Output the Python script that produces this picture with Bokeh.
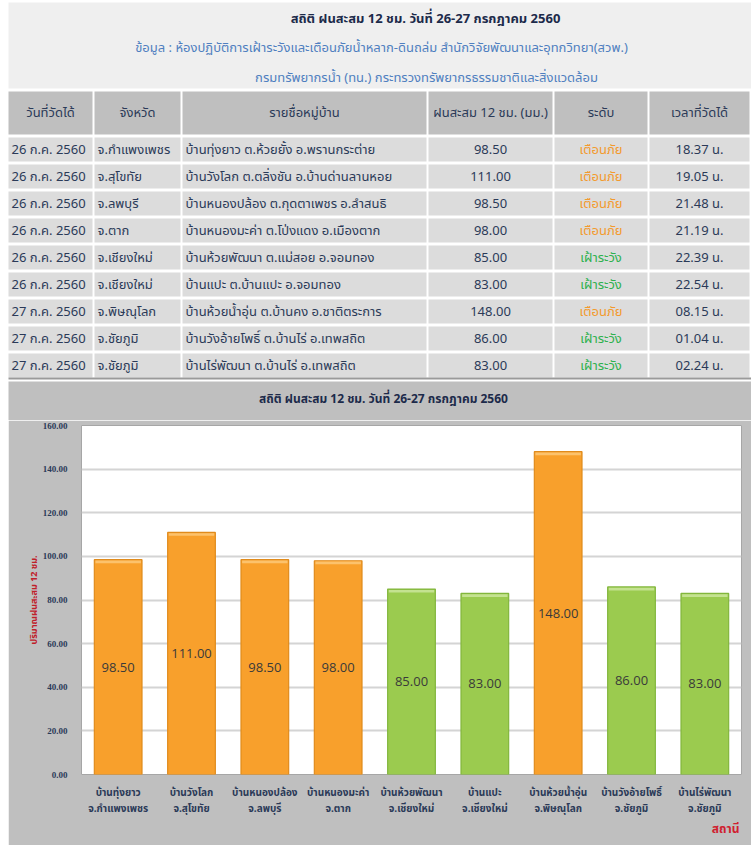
from bokeh.plotting import figure
from bokeh.models import Range1d, FactorRange, FixedTicker, NumeralTickFormatter, Title
from bokeh.core.properties import value
from bokeh.embed import file_html
from bokeh.resources import INLINE

# ---------------- data ----------------
title_text = "สถิติ ฝนสะสม 12 ชม. วันที่ 26-27 กรกฎาคม 2560"
source_line1 = "ข้อมูล : ห้องปฏิบัติการเฝ้าระวังและเตือนภัยน้ำหลาก-ดินถล่ม สำนักวิจัยพัฒนาและอุทกวิทยา(สวพ.)"
source_line2 = "กรมทรัพยากรน้ำ (ทน.) กระทรวงทรัพยากรธรรมชาติและสิ่งแวดล้อม"

table_headers = ["วันที่วัดได้", "จังหวัด", "รายชื่อหมู่บ้าน", "ฝนสะสม 12 ชม. (มม.)", "ระดับ", "เวลาที่วัดได้"]
dates = ["26 ก.ค. 2560"] * 6 + ["27 ก.ค. 2560"] * 3
provinces = ["จ.กำแพงเพชร", "จ.สุโขทัย", "จ.ลพบุรี", "จ.ตาก", "จ.เชียงใหม่",
             "จ.เชียงใหม่", "จ.พิษณุโลก", "จ.ชัยภูมิ", "จ.ชัยภูมิ"]
villages = ["บ้านทุ่งยาว", "บ้านวังโลก", "บ้านหนองปล้อง", "บ้านหนองมะค่า", "บ้านห้วยพัฒนา",
            "บ้านแปะ", "บ้านห้วยน้ำอุ่น", "บ้านวังอ้ายโพธิ์", "บ้านไร่พัฒนา"]
subdistricts = ["ต.ห้วยยั้ง", "ต.ตลิ่งชัน", "ต.กุดตาเพชร", "ต.โป่งแดง", "ต.แม่สอย",
                "ต.บ้านแปะ", "ต.บ้านคง", "ต.บ้านไร่", "ต.บ้านไร่"]
districts = ["อ.พรานกระต่าย", "อ.บ้านด่านลานหอย", "อ.ลำสนธิ", "อ.เมืองตาก", "อ.จอมทอง",
             "อ.จอมทอง", "อ.ชาติตระการ", "อ.เทพสถิต", "อ.เทพสถิต"]
rain_mm = [98.50, 111.00, 98.50, 98.00, 85.00, 83.00, 148.00, 86.00, 83.00]
levels = ["เตือนภัย", "เตือนภัย", "เตือนภัย", "เตือนภัย", "เฝ้าระวัง",
          "เฝ้าระวัง", "เตือนภัย", "เฝ้าระวัง", "เฝ้าระวัง"]
times = ["18.37 น.", "19.05 น.", "21.48 น.", "21.19 น.", "22.39 น.",
         "22.54 น.", "08.15 น.", "01.04 น.", "02.24 น."]
y_ticks = [0, 20, 40, 60, 80, 100, 120, 140, 160]
y_axis_title = "ปริมาณฝนสะสม 12 ชม."
x_axis_title = "สถานี"

# ---------------- styles ----------------
THAI = "Tahoma, 'Noto Sans Thai', 'Noto Sans Thai UI', 'Noto Sans', 'DejaVu Sans', sans-serif"
NAVY = "#2b3a58"
CHART_BG = "#bfbfbf"
level_text_color = {"เตือนภัย": "#f39a2e", "เฝ้าระวัง": "#2fb14e"}
level_bar_fill = {"เตือนภัย": "#f8a02c", "เฝ้าระวัง": "#9bcb4f"}
level_bar_line = {"เตือนภัย": "#e08b1c", "เฝ้าระวัง": "#82b63c"}
level_bar_top = {"เตือนภัย": "#fcc26c", "เฝ้าระวัง": "#c4e290"}

# ---------------- top: header + table + chart title strip ----------------
top = figure(width=751, height=420, x_range=Range1d(0, 751), y_range=Range1d(420, 0),
             output_backend="svg", toolbar_location=None, min_border=0)
top.axis.visible = False
top.grid.visible = False
top.outline_line_color = None
top.background_fill_color = "white"
top.border_fill_color = "white"

top.quad(left=[8], right=[751], top=[2], bottom=[88], fill_color="#efefef", line_color=None)
top.text(x=[425], y=[18], text=[title_text], text_align="center", text_baseline="middle",
         text_font=value(THAI), text_font_size="13px", text_font_style="bold", text_color="#1c2a4a")
top.text(x=[381, 426], y=[47, 77], text=[source_line1, source_line2], text_align="center",
         text_baseline="middle", text_font=value(THAI), text_font_size="13px", text_color="#4f7fc0")

col_edges = [8, 94, 182, 428, 554, 649, 751]
gap = 2
head_top, head_bot = 91, 134
row_top0, row_pitch, row_h = 137, 27, 24
n_rows = len(dates)

top.quad(left=[col_edges[j] for j in range(6)], right=[col_edges[j + 1] - gap for j in range(6)],
         top=[head_top] * 6, bottom=[head_bot] * 6, fill_color="#bfbfbf", line_color=None)
top.text(x=[(col_edges[j] + col_edges[j + 1] - gap) / 2 for j in range(6)], y=[(head_top + head_bot) / 2] * 6,
         text=table_headers, text_align="center", text_baseline="middle",
         text_font=value(THAI), text_font_size="13px", text_color=NAVY)

L, R, T, B = [], [], [], []
for i in range(n_rows):
    for j in range(6):
        L.append(col_edges[j]); R.append(col_edges[j + 1] - gap)
        T.append(row_top0 + i * row_pitch); B.append(row_top0 + i * row_pitch + row_h)
top.quad(left=L, right=R, top=T, bottom=B, fill_color="#dcdcdc", line_color=None)
top.quad(left=[8], right=[751], top=[377], bottom=[379], fill_color="#9a9a9a", line_color=None)

row_mid = [row_top0 + i * row_pitch + row_h / 2 for i in range(n_rows)]
full_names = [f"{v} {s} {d}" for v, s, d in zip(villages, subdistricts, districts)]
rain_text = [f"{r:.2f}" for r in rain_mm]
for j, vals in [(0, dates), (1, provinces), (2, full_names)]:
    top.text(x=[col_edges[j] + 3] * n_rows, y=row_mid, text=vals, text_align="left",
             text_baseline="middle", text_font=value(THAI), text_font_size="13px", text_color=NAVY)
top.text(x=[(col_edges[3] + col_edges[4] - gap) / 2] * n_rows, y=row_mid, text=rain_text,
         text_align="center", text_baseline="middle", text_font=value(THAI),
         text_font_size="13px", text_color=NAVY)
top.text(x=[(col_edges[4] + col_edges[5] - gap) / 2] * n_rows, y=row_mid, text=levels,
         text_align="center", text_baseline="middle", text_font=value(THAI),
         text_font_size="13px", text_color=[level_text_color[l] for l in levels])
top.text(x=[(col_edges[5] + col_edges[6] - gap) / 2] * n_rows, y=row_mid, text=times,
         text_align="center", text_baseline="middle", text_font=value(THAI),
         text_font_size="13px", text_color=NAVY)

# chart title strip (gray, top of the chart panel)
top.quad(left=[8], right=[751], top=[381], bottom=[420], fill_color=CHART_BG, line_color=None)
top.text(x=[383], y=[398], text=[title_text], text_align="center", text_baseline="middle",
         text_font=value(THAI), text_font_size="12px", text_font_style="bold", text_color="#1c2a4a")

# ---------------- chart ----------------
x_factors = [f"{v}\n{p}" for v, p in zip(villages, provinces)]
chart = figure(width=743, height=425, x_range=FactorRange(factors=x_factors),
               y_range=Range1d(0, 160), output_backend="svg", toolbar_location=None,
               min_border_left=73, min_border_right=10, min_border_top=5, min_border_bottom=71,
               margin=(0, 0, 0, 8))
chart.background_fill_color = "white"
chart.border_fill_color = CHART_BG
chart.outline_line_color = "#a6a6a6"
chart.xgrid.grid_line_color = None
chart.ygrid.grid_line_color = "#d4d4d4"
chart.ygrid.grid_line_width = 2
chart.ygrid.ticker = FixedTicker(ticks=y_ticks)

chart.vbar(x=x_factors, top=rain_mm, width=0.65,
           fill_color=[level_bar_fill[l] for l in levels],
           line_color=[level_bar_line[l] for l in levels], line_width=1.2)
# light bevel on top of each bar
chart.vbar(x=x_factors, top=[r - 0.4 for r in rain_mm], bottom=[r - 1.6 for r in rain_mm], width=0.62,
           fill_color=[level_bar_top[l] for l in levels], line_color=None)
chart.text(x=x_factors, y=[r / 2 for r in rain_mm], text=rain_text, text_align="center",
           text_baseline="middle", text_font=value("Open Sans"), text_font_size="13px",
           text_color="#3a3a3a")

ya = chart.yaxis[0]
ya.ticker = FixedTicker(ticks=y_ticks)
ya.formatter = NumeralTickFormatter(format="0.00")
ya.axis_line_color = None
ya.major_tick_line_color = None
ya.minor_tick_line_color = None
ya.major_label_standoff = 8
ya.major_label_text_font = "Liberation Serif"
ya.major_label_text_font_size = "9px"
ya.major_label_text_font_style = "bold"
ya.major_label_text_color = NAVY
ya.axis_label = y_axis_title
ya.axis_label_text_font = THAI
ya.axis_label_text_font_size = "9px"
ya.axis_label_text_font_style = "bold"
ya.axis_label_text_color = "#c0202a"
ya.axis_label_standoff = -1

xa = chart.xaxis[0]
xa.axis_line_color = None
xa.major_tick_line_color = None
xa.minor_tick_line_color = None
xa.major_label_standoff = 4
xa.major_label_text_font = THAI
xa.major_label_text_font_size = "10px"
xa.major_label_text_font_style = "bold"
xa.major_label_text_color = NAVY
xa.major_label_text_line_height = 1.0

chart.add_layout(Title(text=x_axis_title, align="right", offset=2, vertical_align="top",
                       standoff=0, text_font=THAI, text_font_size="12px",
                       text_font_style="bold", text_color="#d0202f"), "below")

open("out.html", "w").write(file_html([top, chart], INLINE))
